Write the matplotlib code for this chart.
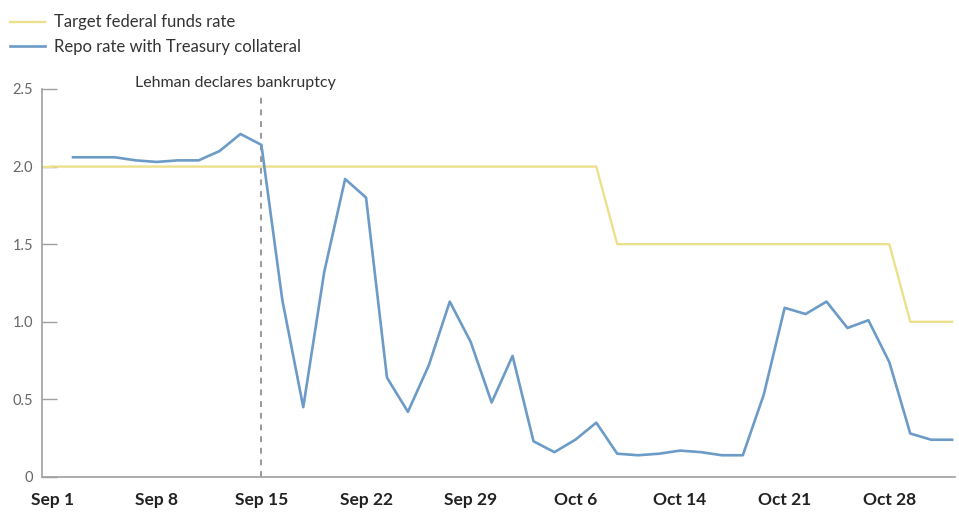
import numpy as np
import matplotlib
matplotlib.use("Agg")
import matplotlib.pyplot as plt

plt.rcParams['font.family'] = ['Lato', 'DejaVu Sans']

# business days, Sep 1 - Oct 31 2008 (Columbus Day left out)
days = ['Sep 1', 'Sep 2', 'Sep 3', 'Sep 4', 'Sep 5',
        'Sep 8', 'Sep 9', 'Sep 10', 'Sep 11', 'Sep 12',
        'Sep 15', 'Sep 16', 'Sep 17', 'Sep 18', 'Sep 19',
        'Sep 22', 'Sep 23', 'Sep 24', 'Sep 25', 'Sep 26',
        'Sep 29', 'Sep 30', 'Oct 1', 'Oct 2', 'Oct 3',
        'Oct 6', 'Oct 7', 'Oct 8', 'Oct 9', 'Oct 10',
        'Oct 14', 'Oct 15', 'Oct 16', 'Oct 17',
        'Oct 20', 'Oct 21', 'Oct 22', 'Oct 23', 'Oct 24',
        'Oct 27', 'Oct 28', 'Oct 29', 'Oct 30', 'Oct 31']

fed_target = [2.0, 2.0, 2.0, 2.0, 2.0,
              2.0, 2.0, 2.0, 2.0, 2.0,
              2.0, 2.0, 2.0, 2.0, 2.0,
              2.0, 2.0, 2.0, 2.0, 2.0,
              2.0, 2.0, 2.0, 2.0, 2.0,
              2.0, 2.0, 1.5, 1.5, 1.5,
              1.5, 1.5, 1.5, 1.5,
              1.5, 1.5, 1.5, 1.5, 1.5,
              1.5, 1.5, 1.0, 1.0, 1.0]

repo_rate = [np.nan, 2.06, 2.06, 2.06, 2.04,
             2.03, 2.04, 2.04, 2.10, 2.21,
             2.14, 1.14, 0.45, 1.32, 1.92,
             1.80, 0.64, 0.42, 0.72, 1.13,
             0.87, 0.48, 0.78, 0.23, 0.16,
             0.24, 0.35, 0.15, 0.14, 0.15,
             0.17, 0.16, 0.14, 0.14,
             0.53, 1.09, 1.05, 1.13, 0.96,
             1.01, 0.74, 0.28, 0.24, 0.24]

tick_days = ['Sep 1', 'Sep 8', 'Sep 15', 'Sep 22', 'Sep 29',
             'Oct 6', 'Oct 14', 'Oct 21', 'Oct 28']
y_ticks = [0, 0.5, 1.0, 1.5, 2.0, 2.5]
y_labels = ['0', '0.5', '1.0', '1.5', '2.0', '2.5']
event_day = 'Sep 15'
event_text = 'Lehman declares bankruptcy'

yellow = '#ece08c'
blue = '#6b9bc6'
axis_grey = '#a0a0a0'

x = np.arange(len(days))

fig = plt.figure(figsize=(9.59, 5.12), dpi=100)
ax = fig.add_axes([0.0434, 0.0684, 0.9527, 0.7578])

l1, = ax.plot(x, fed_target, color=yellow, lw=1.7, label='Target federal funds rate')
l2, = ax.plot(x, repo_rate, color=blue, lw=1.9, label='Repo rate with Treasury collateral')
# the target line runs on from the axis edge
ax.plot([-0.5, 0], fed_target[:1] * 2, color=yellow, lw=1.7)

ev = days.index(event_day)
ax.plot([ev, ev], [0, 2.46], color='#999999', lw=1.4, ls=(0, (3, 3)), zorder=1)
ax.text(ev + 3.55, 2.54, event_text, ha='right', va='center', fontsize=11.5,
        color='#333333', clip_on=False)

ax.set_xlim(-0.5, 43.15)
ax.set_ylim(0, 2.5)

ax.set_xticks([days.index(d) for d in tick_days])
ax.set_xticklabels(tick_days, fontsize=12.5, fontweight='bold', color='#222222')
ax.tick_params(axis='x', length=0, pad=11)

ax.set_yticks(y_ticks)
ax.set_yticklabels(y_labels, fontsize=10.5, color='#666666')
ax.tick_params(axis='y', direction='in', length=11, width=1, color=axis_grey, pad=6)

for s in ['top', 'right']:
    ax.spines[s].set_visible(False)
for s in ['left', 'bottom']:
    ax.spines[s].set_color(axis_grey)
    ax.spines[s].set_linewidth(1.2)

fig.legend(handles=[l1, l2], loc='upper left', bbox_to_anchor=(0.0104, 0.972),
           frameon=False, fontsize=12, handlelength=2.1, handletextpad=0.55,
           labelspacing=0.5, borderpad=0, borderaxespad=0, labelcolor='#333333')

fig.savefig('out.png', dpi=100)
